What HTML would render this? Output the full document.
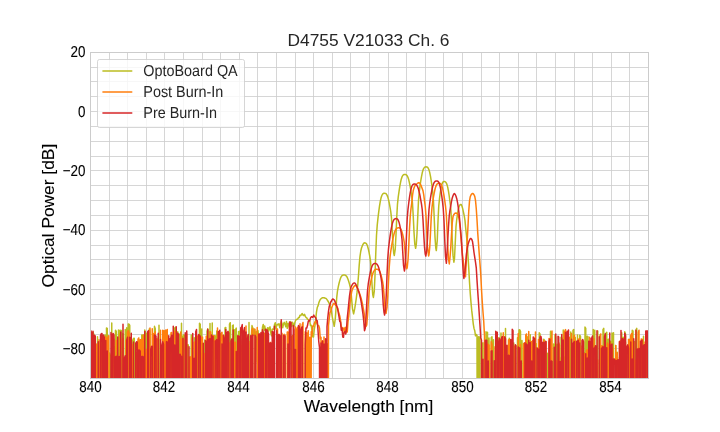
<!DOCTYPE html>
<html lang="en"><head><meta charset="utf-8"><title>D4755 V21033 Ch. 6</title>
<style>html,body{margin:0;padding:0;background:#fff}body{width:720px;height:432px;overflow:hidden}svg{display:block}text{font-family:"Liberation Sans", Arial, sans-serif;fill:#262626}.b{fill:#000;stroke:#000;stroke-width:0.1}.t{font-size:17.35px}.k{font-size:14.4px;text-rendering:geometricPrecision}.g{stroke:#ccc;stroke-width:0.8;fill:none}.s{fill:none;stroke-width:1.5;stroke-linejoin:round;stroke-linecap:round}</style></head><body>
<svg width="720" height="432" viewBox="0 0 720 432">
<rect width="720" height="432" fill="#fff"/>
<defs><clipPath id="c"><rect x="90" y="51.84" width="558" height="326.16"/></clipPath></defs>
<path class="g" d="M90.5 52.5V378.5M109.5 52.5V378.5M127.5 52.5V378.5M146.5 52.5V378.5M164.5 52.5V378.5M183.5 52.5V378.5M202.5 52.5V378.5M220.5 52.5V378.5M239.5 52.5V378.5M257.5 52.5V378.5M276.5 52.5V378.5M295.5 52.5V378.5M313.5 52.5V378.5M332.5 52.5V378.5M350.5 52.5V378.5M369.5 52.5V378.5M388.5 52.5V378.5M406.5 52.5V378.5M425.5 52.5V378.5M443.5 52.5V378.5M462.5 52.5V378.5M481.5 52.5V378.5M499.5 52.5V378.5M518.5 52.5V378.5M536.5 52.5V378.5M555.5 52.5V378.5M574.5 52.5V378.5M592.5 52.5V378.5M611.5 52.5V378.5M629.5 52.5V378.5M648.5 52.5V378.5M90.5 378.5H648.5M90.5 363.5H648.5M90.5 348.5H648.5M90.5 334.5H648.5M90.5 319.5H648.5M90.5 304.5H648.5M90.5 289.5H648.5M90.5 274.5H648.5M90.5 259.5H648.5M90.5 245.5H648.5M90.5 230.5H648.5M90.5 215.5H648.5M90.5 200.5H648.5M90.5 185.5H648.5M90.5 170.5H648.5M90.5 156.5H648.5M90.5 141.5H648.5M90.5 126.5H648.5M90.5 111.5H648.5M90.5 96.5H648.5M90.5 81.5H648.5M90.5 67.5H648.5M90.5 52.5H648.5"/>
<g clip-path="url(#c)">
<polyline class="s" stroke="#bcbd22" points="90,346.78 90.75,346.29 91.5,733.81 92.25,332.71 93,332.22 93.75,334.35 94.5,733.81 96.75,733.81 97.5,336.7 98.25,733.81 99,733.81 99.75,341.23 100.5,343.38 101.25,733.81 102,337.84 102.75,733.81 103.5,355.24 104.25,733.81 105,334.89 105.75,733.81 106.5,327.97 107.25,328.31 108,733.81 108.75,733.81 109.5,352.91 110.25,355.5 111,733.81 111.75,323.01 112.5,733.81 113.25,346.77 114,346.76 114.75,733.81 115.5,330.23 116.25,331.48 117,733.81 117.75,733.81 118.5,329.96 119.25,733.81 120,330.18 120.75,330.57 121.5,330.61 122.25,733.81 123,333.73 123.75,733.81 124.5,733.81 125.25,329.56 126,733.81 126.75,327.81 127.5,733.81 128.25,323.88 129,324.16 129.75,325.49 130.5,733.81 131.25,344.96 132,733.81 132.75,340.27 133.5,338.5 134.25,338.19 135,733.81 137.25,733.81 138,352.69 138.75,354.44 139.5,353.28 140.25,733.81 141,733.81 141.75,334.97 142.5,335.72 143.25,334.78 144,733.81 144.75,330.06 145.5,332.61 146.25,733.81 147,333.25 147.75,733.81 148.5,733.81 149.25,328.9 150,331.3 150.75,733.81 152.25,733.81 153,354.85 153.75,733.81 154.5,326.37 155.25,328.78 156,733.81 156.75,341.16 157.5,340.72 158.25,733.81 159,325.27 159.75,733.81 160.5,733.81 161.25,355.49 162,733.81 163.5,733.81 164.25,332.19 165,330.91 165.75,733.81 166.5,336.94 167.25,337.16 168,338.85 168.75,733.81 170.25,733.81 171,341.16 171.75,341.73 172.5,339.82 173.25,733.81 174,733.81 174.75,328.08 175.5,327.18 176.25,733.81 177,733.81 177.75,331.74 178.5,733.81 179.25,333.9 180,733.81 180.75,733.81 181.5,323.34 182.25,733.81 183,336.25 183.75,334.72 184.5,335.61 185.25,733.81 186,733.81 186.75,344.5 187.5,345.57 188.25,344.91 189,733.81 190.5,733.81 191.25,335.04 192,733.81 193.5,733.81 194.25,337.7 195,733.81 195.75,346.17 196.5,346.23 197.25,733.81 198,338.4 198.75,733.81 199.5,323.28 200.25,324.34 201,733.81 201.75,329.02 202.5,733.81 203.25,345.7 204,733.81 204.75,340.06 205.5,733.81 206.25,733.81 207,331.19 207.75,328.87 208.5,331.88 209.25,733.81 210,323.51 210.75,733.81 211.5,733.81 212.25,323.12 213,733.81 213.75,733.81 214.5,335.87 215.25,335.83 216,733.81 216.75,330.96 217.5,733.81 218.25,343.77 219,343.82 219.75,344.46 220.5,733.81 221.25,343.1 222,733.81 222.75,338.4 223.5,733.81 224.25,733.81 225,327.94 225.75,327.49 226.5,733.81 227.25,334.32 228,733.81 228.75,733.81 229.5,324.01 230.25,322.73 231,733.81 231.75,733.81 232.5,325.53 233.25,325.03 234,733.81 234.75,329.67 235.5,329.76 236.25,328.11 237,733.81 237.75,733.81 238.5,331.73 239.25,331.31 240,331.62 240.75,733.81 241.5,733.81 242.25,339.38 243,338.99 243.75,339.26 244.5,733.81 245.25,733.81 246,336.29 246.75,336.06 247.5,335.83 248.25,733.81 249,322.57 249.75,733.81 250.5,733.81 251.25,337.81 252,325.6 252.75,328.1 253.5,335.51 254.25,328.94 255,334.69 255.75,332.56 256.5,331.3 257.25,362.03 258,330.52 258.75,337.67 259.5,335.02 260.25,341.09 261,341.16 261.75,335.98 262.5,327.21 263.25,324.45 264,330.31 264.75,325.99 265.5,331.08 266.25,342.52 267,328.97 267.75,327.71 268.5,331.12 269.25,327.91 270,326.81 270.75,332.54 271.5,335.82 272.25,329.17 273,328.93 273.75,329.28 274.5,324.71 275.25,322.71 276,328.88 276.75,325.09 277.5,324.29 278.25,324.75 279,323.74 279.75,327.72 280.5,324.24 281.25,321.21 282,323.81 282.75,327.68 283.5,324.01 284.25,322.36 285,324.31 285.75,326.67 286.5,321.47 287.25,328.35 288,323.41 288.75,324.45 289.5,327.37 290.25,321.56 291,323.15 291.75,326.53 292.5,322.35 293.25,324.11 294,326.73 294.75,323.06 295.5,320.64 296.25,319.42 297,319.41 297.75,318.88 298.5,317.57 299.25,317.54 300,315.27 300.75,315.47 301.5,314.52 302.25,313.49 303,315.08 303.75,315.56 304.5,314.36 305.25,316.14 306,317.5 306.75,317.71 307.5,319.37 308.25,319.45 309,321.22 309.75,321.12 310.5,325.6 311.25,325.2 312,330.84 312.75,336.87 313.5,336.99 314.25,329.35 315,325.42 315.75,318.9 316.5,311.78 317.25,307.54 318,305.94 318.75,303.11 319.5,301.08 320.25,299.49 321,298.72 321.75,298.13 322.5,297.8 323.1,297.79 324,297.73 324.75,298.02 325.5,298.27 326.25,298.62 327,299.62 327.75,300.75 328.5,302 329.25,303.58 330,305.16 330.75,307.4 331.5,311.44 332.25,316.87 333,320.87 333.75,323.84 334.2,326.27 335.25,319.17 336,308.7 336.75,297.29 337.5,290.78 338.25,286.84 339,283.47 339.75,280.61 340.5,278.25 341.25,276.67 342,275.68 342.75,275.17 343.5,275.02 343.9,275 345,275.12 345.75,275.49 346.5,276.24 347.25,277.45 348,279.25 348.75,281.46 349.5,284.15 350.25,287.04 351,291.91 351.75,300.55 352.5,308.83 353.6,313.89 354,312.07 354.75,308.47 355.5,303.65 356.25,298.58 357,292.67 357.75,285.01 358.5,275.28 359.25,264.61 360,256.38 360.75,251.24 361.5,248 362.25,246 363,244.34 363.75,243.22 364.5,242.8 365.25,242.9 366,243.32 366.75,244.3 367.5,246.01 368.25,248.71 369,252.1 369.75,256.17 370.5,261.03 371.25,270.27 372,284.22 372.75,294.6 373.4,297.4 374.25,291.37 375,275.45 375.75,253.7 376.5,235.25 377.25,224.92 378,217.94 378.75,211.64 379.5,206.22 380.25,201.53 381,198.05 381.75,195.72 382.5,194.24 383.25,193.48 384,193.24 384.4,193.2 385.5,193.4 386.25,193.95 387,195.09 387.75,196.89 388.5,199.62 389.25,203.01 390,207.09 390.75,211.55 391.5,218.19 392.25,230.62 393,244.68 393.75,253.33 394.3,255.5 395.25,249.02 396,234.81 396.75,216.95 397.5,203.82 398.25,196.81 399,191.53 399.75,186.62 400.5,182.51 401.25,179.19 402,176.95 402.75,175.49 403.5,174.74 404.25,174.46 404.8,174.4 405.75,174.54 406.5,174.99 407.25,175.91 408,177.47 408.75,179.81 409.5,183.09 410.25,186.91 411,191.42 411.75,196.34 412.5,203.42 413.25,216.39 414,232.15 414.75,243.81 415.6,248.3 416.25,244.92 417,233.71 417.75,216.37 418.5,200.65 419.25,191.8 420,186.07 420.75,180.93 421.5,176.55 422.25,172.81 423,170.15 423.75,168.41 424.5,167.4 425.25,166.94 426.1,166.8 426.75,166.89 427.5,167.27 428.25,168.19 429,169.91 429.75,172.58 430.5,176.43 431.25,181 432,186.43 432.75,192.47 433.5,201.92 434.25,218.81 435,236.89 435.75,247.81 436.3,250.6 437.25,240.56 438,221.25 438.75,206.03 439.5,198.71 440.25,192.94 441,188.21 441.75,184.74 442.5,182.72 443.25,181.77 444.2,181.5 444.75,181.57 445.5,181.92 446.25,182.85 447,184.62 447.75,187.42 448.5,191.45 449.25,196.25 450,201.81 450.75,208.52 451.5,220.77 452.25,239.72 453,255.41 453.9,262.2 454.5,258.29 455.25,242.88 456,226.59 456.75,219.28 457.5,213.97 458.25,209.67 459,206.7 459.75,205.1 460.5,204.5 461.1,204.4 462,206.3 462.75,208.86 463.5,212.46 464.25,215.83 465,220.65 465.75,228.89 466.5,235.7 467.25,244.59 468,256.53 468.75,268.16 469.5,282.01 470.25,293.41 471,302.61 471.75,310.69 472.5,317.18 473.25,323.87 474,328.38 474.75,330.72 475.5,335.86 476.25,334.49 477,335.26 477.75,733.81 478.5,336.85 479.25,733.81 480,336.68 480.75,733.81 481.5,733.81 482.25,343.72 483,342.77 483.75,733.81 485.25,733.81 486,331.87 486.75,733.81 487.5,332.15 488.25,733.81 489,337.89 489.75,733.81 490.5,733.81 491.25,337.61 492,336.84 492.75,733.81 493.5,339.81 494.25,733.81 495.75,733.81 496.5,338.14 497.25,733.81 498,733.81 498.75,337.73 499.5,733.81 500.25,733.81 501,333.07 501.75,733.81 502.5,733.81 503.25,343.58 504,733.81 504.75,733.81 505.5,328.52 506.25,733.81 507,345.71 507.75,733.81 508.5,733.81 509.25,338.13 510,733.81 510.75,342.37 511.5,733.81 512.25,346.13 513,345.16 513.75,343.08 514.5,733.81 516.75,733.81 517.5,337.86 518.25,733.81 519,329.97 519.75,329.77 520.5,331.22 521.25,733.81 522,340.47 522.75,733.81 524.25,733.81 525,343.44 525.75,733.81 526.5,733.81 527.25,336.65 528,339.42 528.75,733.81 529.5,733.81 530.25,334.87 531,733.81 531.75,345.62 532.5,346.72 533.25,344.92 534,733.81 534.75,342.01 535.5,345.02 536.25,343.73 537,733.81 537.75,353.93 538.5,733.81 539.25,332.83 540,333.89 540.75,733.81 541.5,733.81 542.25,355.57 543,733.81 543.75,339.33 544.5,340.28 545.25,341.92 546,733.81 546.75,733.81 547.5,353.32 548.25,354.11 549,355.5 549.75,733.81 550.5,331.28 551.25,332.28 552,733.81 552.75,733.81 553.5,343.97 554.25,733.81 555,334.87 555.75,336.97 556.5,733.81 557.25,344.36 558,733.81 558.75,359.72 559.5,357.65 560.25,733.81 561,337.25 561.75,337.95 562.5,733.81 563.25,329.95 564,733.81 564.75,356.89 565.5,733.81 566.25,733.81 567,337.07 567.75,733.81 568.5,337.92 569.25,339.34 570,733.81 570.75,331.98 571.5,733.81 572.25,733.81 573,330.33 573.75,329.61 574.5,733.81 575.25,337.43 576,733.81 576.75,733.81 577.5,334.94 578.25,733.81 579,733.81 579.75,335.21 580.5,336.44 581.25,733.81 582.75,733.81 583.5,352.47 584.25,733.81 585,327.1 585.75,328.36 586.5,733.81 587.25,336.29 588,336.63 588.75,733.81 589.5,346.04 590.25,344.36 591,342.61 591.75,733.81 592.5,733.81 593.25,329.47 594,332.34 594.75,330.22 595.5,733.81 596.25,347.83 597,733.81 597.75,330.9 598.5,733.81 599.25,733.81 600,345.95 600.75,345.45 601.5,733.81 602.25,733.81 603,329.67 603.75,328.38 604.5,733.81 605.25,733.81 606,333.27 606.75,332.32 607.5,733.81 608.25,339.33 609,339.33 609.75,733.81 610.5,341.25 611.25,733.81 612,333.03 612.75,733.81 613.5,332.66 614.25,733.81 615,733.81 615.75,345.46 616.5,733.81 617.25,352.24 618,733.81 618.75,733.81 619.5,357.27 620.25,356.6 621,733.81 621.75,332.81 622.5,733.81 623.25,337.17 624,733.81 624.75,331.73 625.5,334.12 626.25,733.81 627,348.13 627.75,733.81 628.5,733.81 629.25,341.69 630,342.91 630.75,341.67 631.5,733.81 632.25,330.23 633,330.94 633.75,733.81 634.5,341.52 635.25,733.81 636,329.95 636.75,328.33 637.5,733.81 638.25,733.81 639,353.2 639.75,353.58 640.5,733.81 641.25,733.81 642,353.68 642.75,733.81 643.5,336.15 644.25,733.81 645,733.81 645.75,357.03 646.5,357.52 647.25,357.06 648,733.81"/>
<polyline class="s" stroke="#ff7f0e" points="90,331.6 90.75,332.47 91.5,733.81 92.25,340.26 93,733.81 93.75,343.88 94.5,343.85 95.25,733.81 96,346.55 96.75,343.97 97.5,733.81 98.25,733.81 99,339.72 99.75,733.81 100.5,345.9 101.25,346.54 102,348.45 102.75,733.81 103.5,733.81 104.25,347.17 105,733.81 105.75,336.87 106.5,733.81 107.25,338.15 108,337.38 108.75,335.67 109.5,733.81 111.75,733.81 112.5,340.45 113.25,338.97 114,339.17 114.75,733.81 115.5,733.81 116.25,340.61 117,733.81 119.25,733.81 120,334.04 120.75,733.81 121.5,733.81 122.25,339.43 123,338.44 123.75,733.81 125.25,733.81 126,340.42 126.75,733.81 127.5,332.17 128.25,330.56 129,332.73 129.75,733.81 130.5,733.81 131.25,346.85 132,733.81 132.75,344.42 133.5,733.81 135.75,733.81 136.5,352.6 137.25,733.81 138,339.06 138.75,337.98 139.5,733.81 140.25,339.79 141,339.62 141.75,339.55 142.5,733.81 143.25,335.2 144,733.81 144.75,353.36 145.5,733.81 146.25,349.37 147,349.27 147.75,733.81 148.5,340.54 149.25,733.81 150,327.92 150.75,733.81 151.5,733.81 152.25,328.66 153,733.81 153.75,333.51 154.5,733.81 155.25,331.64 156,733.81 156.75,338.79 157.5,733.81 158.25,337.1 159,733.81 159.75,733.81 160.5,330.33 161.25,733.81 162,733.81 162.75,330.15 163.5,331.4 164.25,330.7 165,733.81 165.75,330.05 166.5,331.89 167.25,329.55 168,733.81 168.75,733.81 169.5,346.58 170.25,733.81 171,332.67 171.75,332.58 172.5,733.81 173.25,733.81 174,332.18 174.75,331.21 175.5,733.81 176.25,352.48 177,733.81 177.75,338.33 178.5,339.4 179.25,733.81 180,733.81 180.75,331.98 181.5,733.81 182.25,339.08 183,339.69 183.75,339.82 184.5,733.81 185.25,733.81 186,333.74 186.75,333.92 187.5,733.81 188.25,733.81 189,356.69 189.75,358.61 190.5,356.89 191.25,733.81 192,338.03 192.75,733.81 193.5,733.81 194.25,342.22 195,342.01 195.75,733.81 196.5,335.71 197.25,336.82 198,335.83 198.75,733.81 201,733.81 201.75,337.44 202.5,337.09 203.25,733.81 204,353.53 204.75,354.35 205.5,733.81 206.25,336.14 207,733.81 209.25,733.81 210,331.66 210.75,332.16 211.5,733.81 212.25,733.81 213,335.99 213.75,335.6 214.5,733.81 215.25,340.16 216,733.81 216.75,733.81 217.5,327.96 218.25,733.81 219,333.72 219.75,733.81 220.5,333.83 221.25,333.24 222,332.35 222.75,733.81 223.5,335.43 224.25,733.81 225.75,733.81 226.5,347.81 227.25,733.81 228,336.74 228.75,733.81 229.5,343.08 230.25,733.81 231,733.81 231.75,356.18 232.5,733.81 233.25,733.81 234,342.57 234.75,342.87 235.5,342.16 236.25,733.81 237.75,733.81 238.5,338.37 239.25,733.81 240,340.87 240.75,341.74 241.5,733.81 242.25,344.95 243,345.19 243.75,733.81 244.5,341.99 245.25,733.81 246,325.96 246.75,733.81 247.5,733.81 248.25,343.37 249,341.34 249.75,733.81 251.25,733.81 252,330.14 252.75,328.29 253.5,733.81 254.25,733.81 255,329.26 255.75,733.81 256.5,733.81 257.25,327.44 258,733.81 259.5,733.81 260.25,334.08 261,733.81 261.75,337.94 262.5,733.81 263.25,733.81 264,333.32 264.75,333.58 265.5,733.81 266.25,334.53 267,335.06 267.75,336.78 268.5,733.81 269.25,344.63 270,343.4 270.75,342.37 271.5,733.81 273,733.81 273.75,347.32 274.5,733.81 276,733.81 276.75,328.68 277.5,329.11 278.25,733.81 279,346.41 279.75,733.81 281.25,733.81 282,333.23 282.75,733.81 283.5,733.81 284.25,334.22 285,335.06 285.75,733.81 286.5,733.81 287.25,331.97 288,332.05 288.75,733.81 289.5,326.25 290.25,733.81 291,733.81 291.75,336.69 292.5,335.57 293.25,733.81 294.75,733.81 295.5,327.05 296.25,329.04 297,733.81 297.75,327.25 298.5,326.99 299.25,733.81 300,323.72 300.75,733.81 301.5,733.81 302.25,324.75 303,322.54 303.75,733.81 304.5,733.81 305.25,331.66 306,733.81 306.75,332.78 307.5,733.81 308.25,330.81 309,733.81 309.75,337.37 310.5,733.81 311.25,331.73 312,335.27 312.75,326.1 313.5,326.14 314.25,323.53 315,321.92 315.5,321.44 316.5,321.94 317.25,324.22 318,325.51 318.75,325.8 319.5,328.17 320.25,338.63 321,337.35 321.75,733.81 322.5,341 323.25,733.81 324,336.99 324.5,733.81 325.5,346.34 326.25,733.81 327,343.64 327.75,733.81 328.5,325.53 329.25,318.37 330,312.51 330.75,311.39 331.5,307.77 332.25,306.32 333,304.5 334,303.37 334.5,304.13 335.25,304.81 336,305.67 336.75,306.15 337.5,307.74 338.25,310.87 339,313.36 339.75,315.97 340.5,320.25 341.25,326.62 342,327.57 342.75,328.74 343.5,328.11 344.25,332.7 345,327.55 345.75,333.01 346.5,326.61 347.25,331.99 348,321.64 348.75,316.32 349.5,308.19 350.25,301.29 351,295.92 351.75,291.48 352.5,289.09 353.25,287.53 354,286.45 354.75,285.56 355.2,285.45 356.25,286.11 357,287.34 357.75,288.71 358.5,290.67 359.25,292.53 360,294.63 360.75,297.02 361.5,299.8 362.25,302.98 363,306.89 363.75,310.86 364.5,315.22 365.25,321.61 366,326.46 366.75,324.96 367.5,315.61 368.25,303.71 369,292.95 369.75,286.97 370.5,283 371.25,279.44 372,276.39 372.75,273.74 373.5,271.81 374.25,270.53 375,269.72 375.75,269.34 376.8,269.19 377.25,269.22 378,269.41 378.75,269.95 379.5,270.97 380.25,272.62 381,275.01 381.75,277.86 382.5,281.09 383.25,285.52 384,294.08 384.75,304.8 385.5,311.56 386,313.29 387,307.72 387.75,296.5 388.5,281.37 389.25,266.91 390,257.16 390.75,251.28 391.5,246.63 392.25,242.18 393,238.38 393.75,234.99 394.5,232.35 395.25,230.46 396,229.14 396.75,228.37 397.5,227.96 398.6,227.8 399,227.83 399.75,228.04 400.5,228.69 401.25,229.95 402,232.04 402.75,234.79 403.5,238.11 404.25,242.3 405,250.86 405.75,262.03 406.8,268.79 407.25,267.22 408,260.04 408.75,246.12 409.5,229.07 410.25,215.84 411,208.52 411.75,203.02 412.5,195.32 413.25,190.58 414,188.01 414.75,186.03 415.5,184.99 416.25,184.33 417,183.77 417.75,183.18 418.6,182.74 419.25,182.82 420,183.64 420.75,184.81 421.5,186.65 422.25,188.7 423,190.83 423.75,194.92 424.5,200.85 425.25,206.49 426,216.14 426.75,232.21 427.5,247.2 428.6,256 429,254.65 429.75,247.11 430.5,232.79 431.25,217.16 432,207.3 432.75,201.65 433.5,196.95 434.25,192.79 435,189.24 435.75,186.59 436.5,184.85 437.25,183.78 438,183.26 439,183.1 439.5,183.15 440.25,183.42 441,184.18 441.75,185.66 442.5,187.95 443.25,191.36 444,195.56 444.75,200.61 445.5,206.05 446.25,213.54 447,227.75 447.75,245.82 448.5,259.2 449.3,264 450,257.48 450.75,247.68 451.5,234.55 452.25,222.91 453,216.67 453.75,214.69 454.5,213.69 455.25,213.13 455.8,213 456.75,213.3 457.5,213.89 458.25,215.22 459,218.5 459.75,224.27 460.5,232 461.25,241.05 462,250 462.75,256.98 463.5,263.1 464.25,269.24 465,275.15 465.5,276.7 466.5,256.66 467.25,240.02 468,226 468.75,210.98 469.5,201.09 470.25,196.7 471,195.03 471.75,193.94 472.6,193.5 473.25,193.79 474,194.79 474.75,196.43 475.5,200.38 476.25,208.47 477,219.8 477.75,233.11 478.5,243.73 479.25,254.16 480,264.03 480.75,274.53 481.5,289.35 482.25,301.7 483,312.26 483.75,321.75 484.5,336.09 485.25,733.81 486,733.81 486.75,342.98 487.5,733.81 488.25,344.39 489,345.27 489.75,733.81 490.5,733.81 491.25,341.79 492,344.18 492.75,733.81 494.25,733.81 495,346.79 495.75,348.03 496.5,733.81 498.75,733.81 499.5,339.42 500.25,733.81 502.5,733.81 503.25,332.71 504,733.81 504.75,349.47 505.5,345.97 506.25,733.81 507.75,733.81 508.5,340.12 509.25,339.46 510,733.81 510.75,733.81 511.5,344.83 512.25,345.26 513,733.81 513.75,733.81 514.5,346.14 515.25,733.81 517.5,733.81 518.25,333.45 519,733.81 519.75,733.81 520.5,344.52 521.25,733.81 522.75,733.81 523.5,343.71 524.25,343.01 525,733.81 525.75,334.87 526.5,333.93 527.25,733.81 528,733.81 528.75,331.46 529.5,733.81 530.25,733.81 531,341.58 531.75,342.17 532.5,340.72 533.25,733.81 534,343.2 534.75,733.81 535.5,332.07 536.25,733.81 537.75,733.81 538.5,339.52 539.25,340.65 540,733.81 540.75,337.09 541.5,733.81 543,733.81 543.75,340.6 544.5,733.81 545.25,342.58 546,342.03 546.75,733.81 548.25,733.81 549,338.42 549.75,339.38 550.5,338.48 551.25,733.81 552,330.97 552.75,733.81 555,733.81 555.75,361.29 556.5,360.92 557.25,362.82 558,733.81 558.75,342.65 559.5,345.21 560.25,733.81 561,733.81 561.75,345.52 562.5,345.93 563.25,733.81 564,332.09 564.75,331.35 565.5,329.57 566.25,733.81 567.75,733.81 568.5,337.33 569.25,337.31 570,733.81 570.75,733.81 571.5,333.45 572.25,733.81 573,733.81 573.75,337.93 574.5,335.29 575.25,733.81 576,341.26 576.75,733.81 577.5,733.81 578.25,338.92 579,341.17 579.75,338.55 580.5,733.81 581.25,733.81 582,345.93 582.75,733.81 583.5,353.12 584.25,353.58 585,354.89 585.75,733.81 586.5,350.59 587.25,349.78 588,733.81 588.75,733.81 589.5,337.35 590.25,733.81 591,342.96 591.75,340.78 592.5,733.81 593.25,733.81 594,338.68 594.75,733.81 597,733.81 597.75,360.1 598.5,733.81 599.25,733.81 600,335.11 600.75,333.97 601.5,733.81 602.25,345.87 603,733.81 603.75,358.42 604.5,733.81 605.25,733.81 606,347.89 606.75,733.81 607.5,342.94 608.25,344.97 609,344.99 609.75,733.81 610.5,342.98 611.25,733.81 612,733.81 612.75,348.02 613.5,733.81 615,733.81 615.75,345.44 616.5,733.81 617.25,352.92 618,733.81 618.75,733.81 619.5,341.18 620.25,341.7 621,340.41 621.75,733.81 622.5,733.81 623.25,342.22 624,733.81 624.75,733.81 625.5,342.12 626.25,733.81 627.75,733.81 628.5,339.41 629.25,339.24 630,733.81 630.75,335.44 631.5,333.76 632.25,333.32 633,733.81 633.75,341.98 634.5,733.81 635.25,360.04 636,360.89 636.75,360.8 637.5,733.81 638.25,332.45 639,330.2 639.75,733.81 640.5,733.81 641.25,338.9 642,339.33 642.75,339.4 643.5,733.81 644.25,733.81 645,342.09 645.75,733.81 646.5,331.14 647.25,733.81 648,339.85"/>
<polyline class="s" stroke="#d62728" points="90,332.64 90.75,330.65 91.5,332.49 92.25,733.81 93,331.29 93.75,733.81 94.5,335.3 95.25,336.05 96,733.81 97.5,733.81 98.25,341.65 99,733.81 99.75,733.81 100.5,335.56 101.25,333.77 102,333.58 102.75,733.81 103.5,334.94 104.25,337.46 105,733.81 105.75,340.45 106.5,733.81 107.25,350.99 108,733.81 110.25,733.81 111,332.41 111.75,733.81 112.5,334.36 113.25,333.49 114,335.3 114.75,733.81 115.5,356.86 116.25,356.21 117,733.81 117.75,336.9 118.5,733.81 119.25,356.4 120,733.81 120.75,332.06 121.5,733.81 122.25,733.81 123,324.21 123.75,733.81 124.5,357.9 125.25,355.81 126,733.81 126.75,339.85 127.5,337.34 128.25,733.81 129,733.81 129.75,337.27 130.5,733.81 131.25,333.24 132,733.81 132.75,733.81 133.5,342.02 134.25,733.81 135,733.81 135.75,343.23 136.5,341.84 137.25,342.06 138,733.81 138.75,349.9 139.5,350.11 140.25,351.14 141,733.81 141.75,356.53 142.5,356.4 143.25,356.84 144,733.81 144.75,331.52 145.5,733.81 147,733.81 147.75,331.65 148.5,330.67 149.25,733.81 150,733.81 150.75,349.2 151.5,346.42 152.25,346.15 153,733.81 153.75,733.81 154.5,334.92 155.25,336.2 156,336 156.75,733.81 157.5,733.81 158.25,333.32 159,733.81 159.75,733.81 160.5,339.52 161.25,733.81 162,345.27 162.75,341.82 163.5,344.42 164.25,733.81 165.75,733.81 166.5,341.81 167.25,342.02 168,733.81 168.75,335.75 169.5,733.81 170.25,338.52 171,337.78 171.75,335.25 172.5,733.81 173.25,326.18 174,733.81 174.75,344.99 175.5,733.81 176.25,326.63 177,733.81 177.75,333.06 178.5,334.49 179.25,733.81 180,354.13 180.75,356.02 181.5,356.52 182.25,733.81 183,338.14 183.75,733.81 184.5,733.81 185.25,332.83 186,733.81 186.75,330.93 187.5,733.81 188.25,733.81 189,346.87 189.75,733.81 192,733.81 192.75,333.62 193.5,733.81 194.25,358.35 195,733.81 195.75,331.81 196.5,329.45 197.25,733.81 198,733.81 198.75,334.56 199.5,335.54 200.25,336.11 201,733.81 202.5,733.81 203.25,343.3 204,733.81 204.75,733.81 205.5,340.57 206.25,341.3 207,733.81 207.75,329.26 208.5,733.81 209.25,339.35 210,338.48 210.75,733.81 211.5,335.05 212.25,336.43 213,336.72 213.75,733.81 214.5,733.81 215.25,340.93 216,341.55 216.75,339.65 217.5,733.81 218.25,331.72 219,332.17 219.75,330.29 220.5,733.81 221.25,733.81 222,343.94 222.75,733.81 223.5,335.27 224.25,338.01 225,733.81 225.75,329.42 226.5,733.81 227.25,332.51 228,331.4 228.75,332.82 229.5,733.81 230.25,733.81 231,341 231.75,338.94 232.5,733.81 233.25,329.88 234,733.81 235.5,733.81 236.25,351.61 237,733.81 237.75,335.75 238.5,336.24 239.25,336.26 240,733.81 240.75,327.77 241.5,327.12 242.25,324.6 243,733.81 243.75,331.03 244.5,327.62 245.25,733.81 246,332.11 246.75,733.81 247.5,338.38 248.25,334.48 249,733.81 249.75,733.81 250.5,335.68 251.25,733.81 252,335.59 252.75,335.03 253.5,733.81 254.25,733.81 255,335.19 255.75,336.97 256.5,733.81 258,733.81 258.75,334.28 259.5,333.92 260.25,733.81 261,332.55 261.75,733.81 262.5,329.64 263.25,332.31 264,733.81 264.75,733.81 265.5,329.19 266.25,733.81 267,329.78 267.75,331.64 268.5,333.91 269.25,733.81 270,342.96 270.75,342.9 271.5,733.81 272.25,331.57 273,331.98 273.75,733.81 274.5,326.14 275.25,733.81 276,733.81 276.75,330.74 277.5,733.81 278.25,334.83 279,334.4 279.75,335.56 280.5,733.81 281.25,319.67 282,733.81 282.75,733.81 283.5,335.29 284.25,335.89 285,335.94 285.75,733.81 287.25,733.81 288,344.04 288.75,733.81 289.5,322.01 290.25,324.35 291,322.17 291.75,733.81 292.5,733.81 293.25,325.49 294,329.6 294.75,733.81 295.5,349.39 296.25,733.81 297.75,733.81 298.5,325.5 299.25,326.61 300,733.81 300.75,329.75 301.5,327.68 302.25,326.85 303,733.81 304.5,733.81 305.25,344.44 306,327.99 306.75,328.03 307.5,325.55 308.25,321.45 309,320.31 309.75,320.94 310.5,317.94 311.25,316.82 312,316.79 312.75,317.39 313.8,315.13 314.25,316.34 315,317.01 315.75,317.64 316.5,320.56 317.25,320.72 318,330.31 318.75,341.3 319.5,347.65 320.25,733.81 321,343.07 321.75,733.81 322.5,341.09 323.25,733.81 324,343.92 324.75,733.81 325.5,338.68 326.25,733.81 327,326.62 327.75,318.07 328.5,311.37 329.25,306.33 330,304.59 330.75,302.04 331.5,300.96 332.25,299.33 332.9,299 333.75,299.54 334.5,300.36 335.25,302.09 336,303.84 336.75,306.15 337.5,308.15 338.25,312.37 339,316.55 339.75,321.49 340.5,322.14 341.25,330.25 342,327.92 342.75,336.99 343.5,337.26 343.9,332.88 345,331.45 345.75,333.96 346.5,329.2 347.25,317.77 348,310.98 348.75,303.47 349.5,296.18 350.25,290.87 351,287.2 351.75,285.61 352.5,284.31 353.25,283.41 354.3,282.91 354.75,283 355.5,283.79 356.25,285.21 357,286.89 357.75,288.89 358.5,291.08 359.25,293.34 360,296.25 360.75,299.69 361.5,303.94 362.25,308.84 363,314.18 363.75,321.17 364.5,330.69 365.25,328.31 366,317.59 366.75,303.33 367.5,290.79 368.25,283.97 369,279.27 369.75,275.05 370.5,271.46 371.25,268.39 372,266.23 372.75,264.81 373.5,263.99 374.25,263.61 375.1,263.49 375.75,263.56 376.5,263.85 377.25,264.55 378,265.81 378.75,267.82 379.5,270.59 380.25,273.91 381,277.58 381.75,282.53 382.5,292.24 383.25,304.7 384,312.45 384.6,314.97 385.5,309.02 386.25,294.93 387,275.46 387.75,258.61 388.5,248.79 389.25,242.36 390,236.7 390.75,231.68 391.5,227.32 392.25,223.89 393,221.54 393.75,219.94 394.5,219.08 395.25,218.71 396,218.6 396.75,218.7 397.5,219.17 398.25,220.27 399,222.19 399.75,225.18 400.5,228.88 401.25,233.14 402,239.31 402.75,251.92 403.5,265.03 404.4,271.01 405,267.51 405.75,254.73 406.5,234.87 407.25,218.02 408,209.16 408.75,203.01 409.5,197.36 410.25,192.68 411,188.95 411.75,186.51 412.5,184.98 413.25,184.25 414.3,184 414.75,184.03 415.5,184.2 416.25,184.69 417,185.62 417.75,187.09 418.5,189.26 419.25,192.24 420,195.68 420.75,199.77 421.5,204.09 422.25,209.74 423,219.84 423.75,234.19 424.5,246.89 425.25,254.14 425.8,256.1 426.75,250.54 427.5,238.1 428.25,222.1 429,209.52 429.75,202.75 430.5,197.87 431.25,193.35 432,189.53 432.75,186.27 433.5,183.94 434.25,182.4 435,181.48 435.75,181.04 436.7,180.9 437.25,180.97 438,181.33 438.75,182.28 439.5,184.09 440.25,186.95 441,191.06 441.75,195.96 442.5,201.64 443.25,208.49 444,221 444.75,240.35 445.5,256.37 446.4,263.3 447,253.2 447.75,239.82 448.5,226.55 449.25,215.53 450,210.17 450.75,205.9 451.5,201.4 452.25,197.96 453,195.75 453.75,194.06 454.4,193.5 455.25,194.43 456,196.31 456.75,198.67 457.5,202.43 458.25,207.13 459,213 459.75,220.75 460.5,229.28 461.25,237.79 462,250.15 462.75,264.42 463.5,275.51 463.9,278.4 465,270.88 465.75,262.45 466.5,253.9 467.25,248.58 468,244.61 468.75,242.08 469.5,240 470.25,238.65 470.7,238.4 471.75,239.38 472.5,241.41 473.25,246.52 474,252.51 474.75,257.37 475.5,262.21 476.25,267.53 477,280.13 477.75,291.58 478.5,302.44 479.25,314.26 480,325.5 480.75,337.89 481.5,340.13 482.25,733.81 483,359.31 483.75,733.81 484.5,733.81 485.25,340.45 486,340.19 486.75,340.22 487.5,733.81 488.25,361.03 489,733.81 490.5,733.81 491.25,351.26 492,350.81 492.75,733.81 493.5,733.81 494.25,360.67 495,733.81 495.75,331.36 496.5,332.86 497.25,332.29 498,733.81 498.75,341.65 499.5,338.25 500.25,340.02 501,733.81 501.75,337.04 502.5,336.62 503.25,733.81 504,733.81 504.75,336.83 505.5,338.78 506.25,733.81 507,345.19 507.75,733.81 508.5,355.16 509.25,355.59 510,733.81 510.75,339.44 511.5,733.81 512.25,329.33 513,330.61 513.75,733.81 514.5,733.81 515.25,344.71 516,345.75 516.75,733.81 517.5,733.81 518.25,347.1 519,347.74 519.75,347.91 520.5,733.81 521.25,360.9 522,733.81 524.25,733.81 525,342.85 525.75,733.81 526.5,344.02 527.25,344.94 528,733.81 528.75,340.16 529.5,733.81 530.25,342.62 531,733.81 531.75,361.07 532.5,733.81 533.25,337 534,337.91 534.75,338.72 535.5,733.81 536.25,733.81 537,347.85 537.75,349.38 538.5,349.26 539.25,733.81 540,337.21 540.75,336.23 541.5,339.3 542.25,733.81 543,342.22 543.75,733.81 544.5,342.61 545.25,341.97 546,341.45 546.75,733.81 548.25,733.81 549,342.04 549.75,339.3 550.5,733.81 551.25,361 552,361.36 552.75,733.81 553.5,733.81 554.25,347.25 555,733.81 555.75,334 556.5,733.81 557.25,733.81 558,336.26 558.75,337.08 559.5,733.81 560.25,361.47 561,733.81 561.75,334.5 562.5,733.81 563.25,340.12 564,733.81 564.75,733.81 565.5,332.56 566.25,733.81 567,331.26 567.75,333.59 568.5,329.96 569.25,733.81 570.75,733.81 571.5,339.27 572.25,733.81 573,343.36 573.75,342.26 574.5,341.64 575.25,733.81 576,733.81 576.75,341.19 577.5,341.71 578.25,340.42 579,733.81 579.75,343.01 580.5,733.81 581.25,733.81 582,340.45 582.75,339.54 583.5,341.81 584.25,733.81 585,733.81 585.75,353.85 586.5,733.81 587.25,357.89 588,733.81 588.75,341.19 589.5,341.52 590.25,733.81 591,338.3 591.75,338.35 592.5,336.01 593.25,733.81 594,348.23 594.75,347.89 595.5,345.74 596.25,733.81 597,330.67 597.75,733.81 598.5,733.81 599.25,336.83 600,733.81 600.75,733.81 601.5,348.5 602.25,347.69 603,346.76 603.75,733.81 604.5,337.01 605.25,333.76 606,733.81 606.75,347.71 607.5,733.81 609,733.81 609.75,332.99 610.5,733.81 611.25,345.09 612,344.16 612.75,733.81 613.5,359.08 614.25,359.02 615,360.1 615.75,733.81 616.5,360.53 617.25,361.38 618,359.65 618.75,733.81 619.5,341.76 620.25,733.81 621,330.45 621.75,733.81 622.5,338.81 623.25,338.98 624,733.81 624.75,333.17 625.5,335.88 626.25,733.81 627,346.64 627.75,344.88 628.5,348.18 629.25,733.81 630,733.81 630.75,342.1 631.5,733.81 632.25,359.11 633,733.81 633.75,338.81 634.5,733.81 635.25,733.81 636,330.3 636.75,733.81 637.5,348.99 638.25,350.24 639,348.5 639.75,733.81 640.5,341.25 641.25,341.08 642,340.26 642.75,733.81 643.5,345.91 644.25,344.67 645,733.81 645.75,330.96 646.5,331.37 647.25,330.83 648,733.81"/>
</g>
<rect x="90.5" y="52.5" width="558" height="326" fill="none" stroke="#ccc" stroke-width="1"/>
<text class="k b" transform="translate(90.5 391.85) scale(0.93 1.1)" text-anchor="middle">840</text>
<text class="k b" transform="translate(164 391.85) scale(0.93 1.1)" text-anchor="middle">842</text>
<text class="k b" transform="translate(238.5 391.85) scale(0.93 1.1)" text-anchor="middle">844</text>
<text class="k b" transform="translate(313.5 391.85) scale(0.93 1.1)" text-anchor="middle">846</text>
<text class="k b" transform="translate(387.5 391.85) scale(0.93 1.1)" text-anchor="middle">848</text>
<text class="k b" transform="translate(462.5 391.85) scale(0.93 1.1)" text-anchor="middle">850</text>
<text class="k b" transform="translate(536 391.85) scale(0.93 1.1)" text-anchor="middle">852</text>
<text class="k b" transform="translate(610.5 391.85) scale(0.93 1.1)" text-anchor="middle">854</text>
<text class="k b" transform="translate(85.5 56.85) scale(0.93 1.1)" text-anchor="end">20</text>
<text class="k b" transform="translate(85.5 116.85) scale(0.93 1.1)" text-anchor="end">0</text>
<text class="k b" transform="translate(85.5 175.85) scale(0.93 1.1)" text-anchor="end">−20</text>
<text class="k b" transform="translate(85.5 234.85) scale(0.93 1.1)" text-anchor="end">−40</text>
<text class="k b" transform="translate(85.5 294.85) scale(0.93 1.1)" text-anchor="end">−60</text>
<text class="k b" transform="translate(85.5 353.85) scale(0.93 1.1)" text-anchor="end">−80</text>
<text class="t" x="368.5" y="46" text-anchor="middle">D4755 V21033 Ch. 6</text>
<text class="t b" x="368.6" y="412.1" text-anchor="middle">Wavelength [nm]</text>
<text class="t b" transform="translate(54.4 215.6) rotate(-90)" text-anchor="middle">Optical Power [dB]</text>
<rect x="97.5" y="59.5" width="147" height="68" rx="2" ry="2" fill="#fff" fill-opacity="0.8" stroke="#ccc" stroke-opacity="0.8" stroke-width="1"/>
<path class="s" stroke="#bcbd22" d="M102.96 70.95H131.76"/>
<text class="k" transform="translate(143.3 75.8) scale(1 1.1)">OptoBoard QA</text>
<path class="s" stroke="#ff7f0e" d="M102.96 92H131.76"/>
<text class="k" transform="translate(143.3 96.85) scale(1 1.1)">Post Burn-In</text>
<path class="s" stroke="#d62728" d="M102.96 113.05H131.76"/>
<text class="k" transform="translate(143.3 117.9) scale(1 1.1)">Pre Burn-In</text>
</svg></body></html>
